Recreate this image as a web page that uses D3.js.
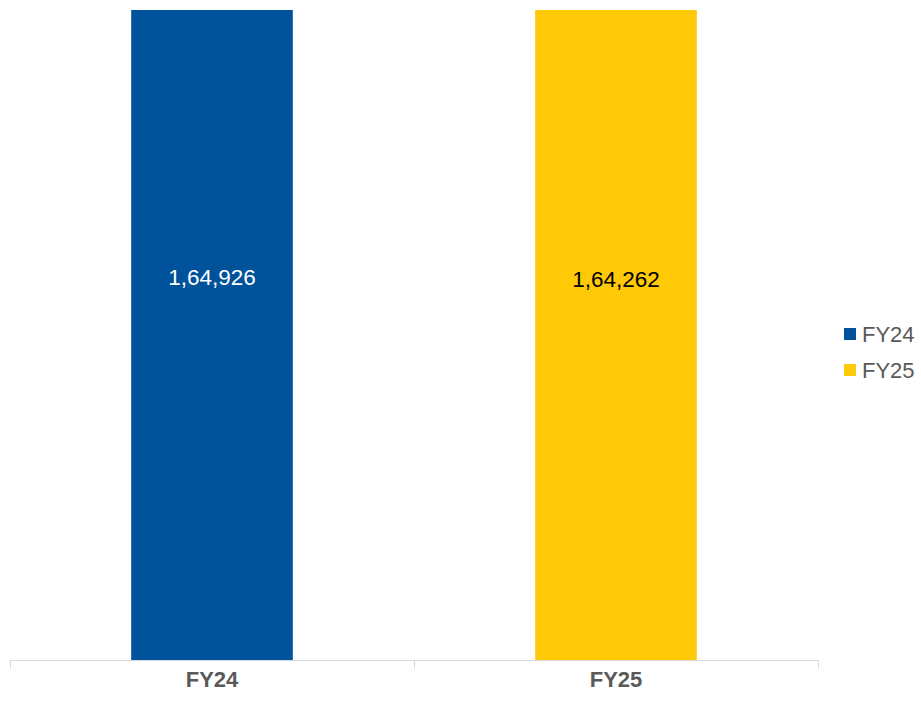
<!DOCTYPE html>
<html>
<head>
<meta charset="utf-8">
<script src="https://cdn.jsdelivr.net/npm/d3@7"></script>
<style>
  html, body { margin: 0; padding: 0; background: #fff; }
  text { font-family: "Liberation Sans", Arial, sans-serif; }
</style>
</head>
<body>
<svg id="chart" width="921" height="702"></svg>
<script>
const categories = ["FY24", "FY25"];
const values = [164926, 164262];
const labels = ["1,64,926", "1,64,262"];
const colors = ["#00529B", "#FFC907"];
const labelColors = ["#FFFFFF", "#000000"];
const axisMax = 140000;

const svg = d3.select("#chart");
const plot = { left: 10, right: 818, top: 10, bottom: 660 };

const x = d3.scaleBand().domain(categories).range([plot.left, plot.right]).paddingInner(0.6).paddingOuter(0.3);
const y = d3.scaleLinear().domain([0, axisMax]).range([plot.bottom, plot.top]);

svg.append("defs").append("clipPath").attr("id", "clip")
  .append("rect").attr("x", plot.left).attr("y", plot.top)
  .attr("width", plot.right - plot.left).attr("height", plot.bottom - plot.top);

const g = svg.append("g").attr("clip-path", "url(#clip)");
g.selectAll("rect.bar").data(categories).enter().append("rect")
  .attr("class", "bar")
  .attr("x", d => x(d))
  .attr("width", x.bandwidth())
  .attr("y", (d, i) => y(values[i]))
  .attr("height", (d, i) => y(0) - y(values[i]))
  .attr("fill", (d, i) => colors[i]);

svg.selectAll("text.val").data(categories).enter().append("text")
  .attr("class", "val")
  .attr("x", d => x(d) + x.bandwidth() / 2)
  .attr("y", (d, i) => (y(values[i]) + y(0)) / 2)
  .attr("dy", "0.35em")
  .attr("text-anchor", "middle")
  .attr("font-size", 22.5)
  .attr("fill", (d, i) => labelColors[i])
  .text((d, i) => labels[i]);

// x axis
const xAxis = d3.axisBottom(x).tickSize(0).tickSizeOuter(0);
const ax = svg.append("g").attr("transform", `translate(0,${plot.bottom})`).call(xAxis);
ax.select(".domain").attr("stroke", "#D9D9D9").attr("stroke-width", 1);
ax.selectAll(".tick text")
  .attr("font-family", "Liberation Sans, Arial, sans-serif")
  .attr("font-size", 22)
  .attr("font-weight", "bold")
  .attr("fill", "#595959")
  .attr("y", 27)
  .attr("dy", "0");
// category separator ticks
const bounds = [plot.left, plot.left + (plot.right - plot.left) / 2, plot.right];
svg.selectAll("line.sep").data(bounds).enter().append("line")
  .attr("class", "sep")
  .attr("x1", d => d + 0.5).attr("x2", d => d + 0.5)
  .attr("y1", plot.bottom).attr("y2", plot.bottom + 8)
  .attr("stroke", "#D9D9D9");

// legend
const lg = svg.append("g").attr("transform", "translate(844,0)");
categories.forEach((c, i) => {
  const cy = 334 + i * 36;
  lg.append("rect").attr("x", 0).attr("y", cy - 6).attr("width", 12).attr("height", 12).attr("fill", colors[i]);
  lg.append("text").attr("x", 18).attr("y", cy).attr("dy", "0.35em")
    .attr("font-size", 22).attr("fill", "#595959").text(c);
});
</script>
</body>
</html>
